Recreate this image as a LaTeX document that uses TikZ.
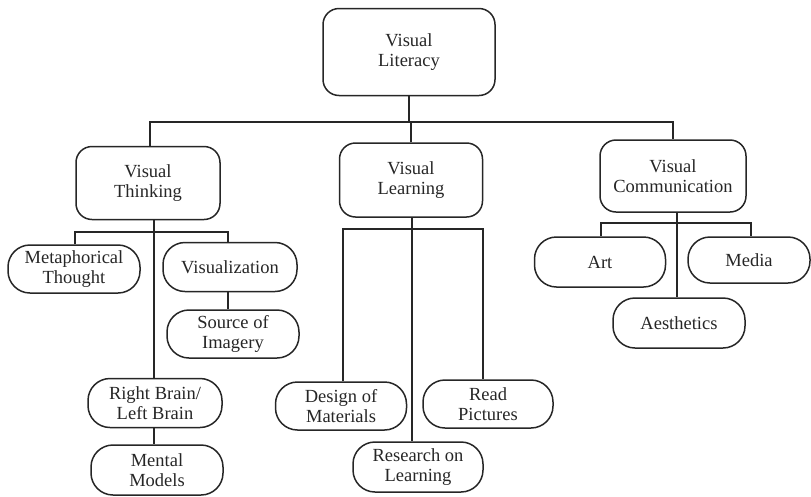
\documentclass[tikz,border=0pt]{standalone}
\usepackage{fontspec}
\setmainfont{Liberation Serif}
\begin{document}
\begin{tikzpicture}[x=1pt,y=-1pt,
  box/.style={draw=black!85, line width=1.5pt, rounded corners=15pt, align=center,
    inner sep=0pt, font=\fontsize{18.5}{20}\selectfont, text=black!85},
  topbox/.style={box, rounded corners=16pt},
  leaf/.style={box, rounded corners=22pt},
  conn/.style={draw=black!85, line width=1.5pt}]
\useasboundingbox (0,0) rectangle (811,496);
% nodes
\node[topbox, minimum width=172pt, minimum height=87pt] (lit) at (409,52) {Visual\\Literacy};
\node[topbox, minimum width=144pt, minimum height=73pt] (think) at (148,183) {Visual\\Thinking};
\node[topbox, minimum width=143pt, minimum height=74pt] (learn) at (411,180) {Visual\\Learning};
\node[topbox, minimum width=146pt, minimum height=72pt] (comm) at (673,176) {Visual\\Communication};
\node[leaf, minimum width=132pt, minimum height=48pt] (meta) at (74,269) {Metaphorical\\Thought};
\node[leaf, minimum width=134pt, minimum height=49pt] (viz) at (230,267) {Visualization};
\node[leaf, minimum width=132pt, minimum height=48pt] (src) at (233,334) {Source of\\Imagery};
\node[leaf, minimum width=134pt, minimum height=49pt] (rb) at (155,403) {Right Brain/\\Left Brain};
\node[leaf, minimum width=132pt, minimum height=50pt] (mm) at (157,470) {Mental\\Models};
\node[leaf, minimum width=131pt, minimum height=48pt] (design) at (341,406) {Design of\\Materials};
\node[leaf, minimum width=130pt, minimum height=48pt] (read) at (488,404) {Read\\Pictures};
\node[leaf, minimum width=130pt, minimum height=50pt] (research) at (418,467) {Research on\\Learning};
\node[leaf, minimum width=131pt, minimum height=50pt] (art) at (600,262) {Art};
\node[leaf, minimum width=122pt, minimum height=46pt] (media) at (749,260) {Media};
\node[leaf, minimum width=132pt, minimum height=50pt] (aes) at (679,323) {Aesthetics};
% bus coordinates
\coordinate (topbar) at (0,122);
\coordinate (tbar) at (0,232);
\coordinate (lbar) at (0,229);
\coordinate (cbar) at (0,223);
\coordinate (tstem) at (154,0);
\coordinate (lstem) at (412,0);
\coordinate (cstem) at (677,0);
\coordinate (mstem) at (75,0);
\coordinate (vstem) at (228,0);
\coordinate (dstem) at (343,0);
\coordinate (rstem) at (483,0);
\coordinate (astem) at (601,0);
\coordinate (mdstem) at (751,0);
% top level
\draw[conn] (lit.south) -- (lit.south |- topbar);
\draw[conn] ([xshift=2pt]think.north) -- ([xshift=2pt]think.north |- topbar) -- (comm.north |- topbar) -- (comm.north);
\draw[conn] (learn.north) -- (learn.north |- topbar);
% visual thinking
\draw[conn] (tstem |- think.south) -- (tstem |- rb.north);
\draw[conn] (mstem |- meta.north) -- (mstem |- tbar) -- (vstem |- tbar) -- (vstem |- viz.north);
\draw[conn] (vstem |- viz.south) -- (vstem |- src.north);
\draw[conn] (tstem |- rb.south) -- (tstem |- mm.north);
% visual learning
\draw[conn] (lstem |- learn.south) -- (lstem |- research.north);
\draw[conn] (dstem |- design.north) -- (dstem |- lbar) -- (rstem |- lbar) -- (rstem |- read.north);
% visual communication
\draw[conn] (cstem |- comm.south) -- (cstem |- aes.north);
\draw[conn] (astem |- art.north) -- (astem |- cbar) -- (mdstem |- cbar) -- (mdstem |- media.north);
\end{tikzpicture}
\end{document}
